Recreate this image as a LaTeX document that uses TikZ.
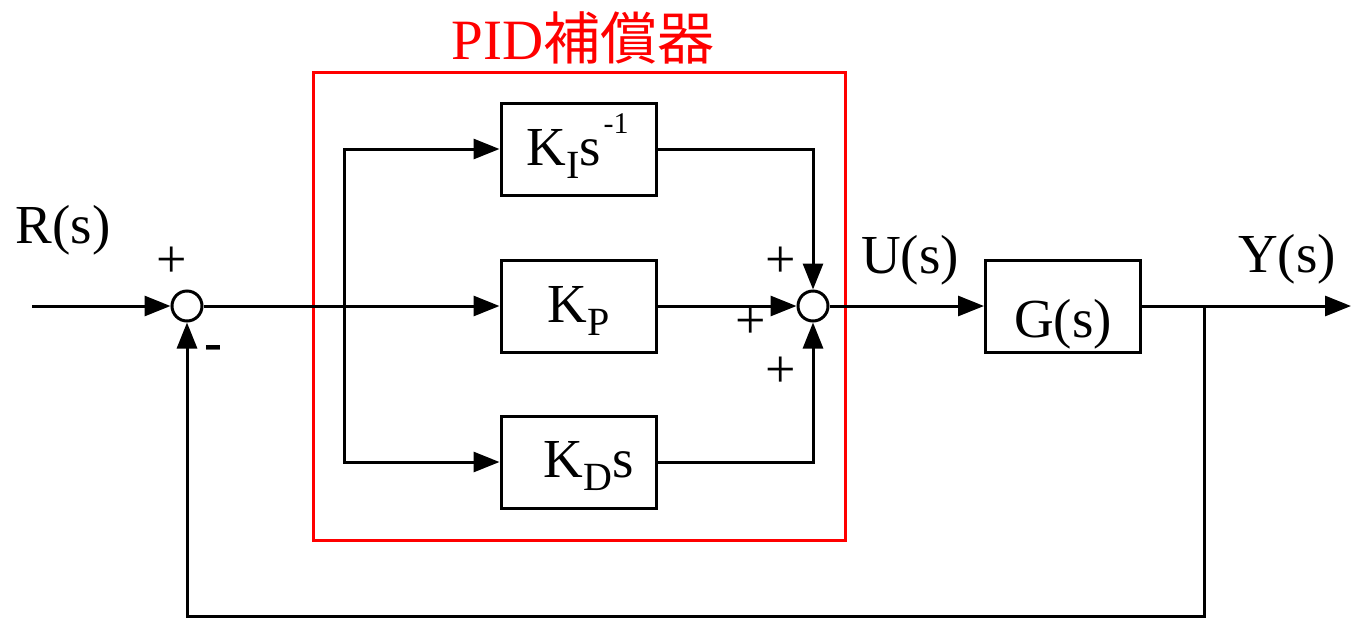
\documentclass[tikz,border=0pt]{standalone}
\usepackage{fontspec}
\setmainfont{Liberation Serif}
\newfontfamily\cjk{Noto Sans CJK JP}
\usetikzlibrary{arrows.meta}
\newcommand{\subl}[1]{\raisebox{-13pt}{\fontsize{40}{44}\selectfont #1}}
\tikzset{
  every picture/.style={x=1pt,y=-1pt},
  ln/.style={line width=3pt},
  arr/.style={ln,-{Triangle[length=26pt,width=20pt]}},
  blk/.style={draw,ln,minimum width=155pt,minimum height=92pt,inner sep=0pt},
  sumc/.style={draw,ln,circle,minimum size=30pt,inner sep=0pt},
  big/.style={font=\fontsize{55}{58}\selectfont,inner sep=0pt},
  sgn/.style={font=\fontsize{54}{56}\selectfont,inner sep=0pt},
}
\begin{document}
\begin{tikzpicture}
\useasboundingbox (0,0) rectangle (1351,619);
% PID frame
\draw[red,line width=3pt] (313,72) rectangle (845,540);
\node[red,inner sep=0pt,font=\fontsize{57}{60}\selectfont] (title) at (583,38) {PID{\cjk 補償器}};
% blocks
\node[blk,big] (ki) at (578.5,149) {\raisebox{-16pt}[0pt][0pt]{\hspace{-2pt}K\subl{I}s\hspace{3pt}\raisebox{32pt}{\fontsize{30}{32}\selectfont -1}}};
\node[blk,big] (kp) at (578.5,306) {\raisebox{-16pt}[0pt][0pt]{K\subl{P}}};
\node[blk,big] (kd) at (578.5,462) {\raisebox{-15pt}[0pt][0pt]{\hspace{20pt}K\subl{D}s}};
\node[blk,big] (g) at (1063,306) {\raisebox{-31pt}[0pt][0pt]{G(s)}};
% sums
\node[sumc] (s1) at (187,306) {};
\node[sumc] (s2) at (813,306) {};
% coordinates
\coordinate (in) at (32,306);
\coordinate (br) at (344,306);
\coordinate (out) at (1351,306);
\coordinate (tap) at (1204,306);
\coordinate (fb) at (1204,616);
% connectors
\draw[arr] (in) -- (s1);
\draw[arr] (s1) -- (kp);
\draw[arr] (br) |- (ki);
\draw[arr] (br) |- (kd);
\draw[arr] (ki) -| (s2);
\draw[arr] (kp) -- (s2);
\draw[arr] (kd) -| (s2);
\draw[arr] (s2) -- (g);
\draw[arr] (g) -- (out);
\draw[arr] (tap) -- (fb) -| (s1);
% labels
\node[big] (r) at (63,230) {R(s)};
\node[big] (u) at (910,260) {U(s)};
\node[big] (y) at (1287,259) {Y(s)};
\node[sgn] (p1) at (172,262) {+};
\node[sgn] (m1) at (213,353) {\textbf{-}};
\node[sgn] (p2) at (781,262) {+};
\node[sgn] (p3) at (751,323) {+};
\node[sgn] (p4) at (781,372) {+};
\end{tikzpicture}
\end{document}
